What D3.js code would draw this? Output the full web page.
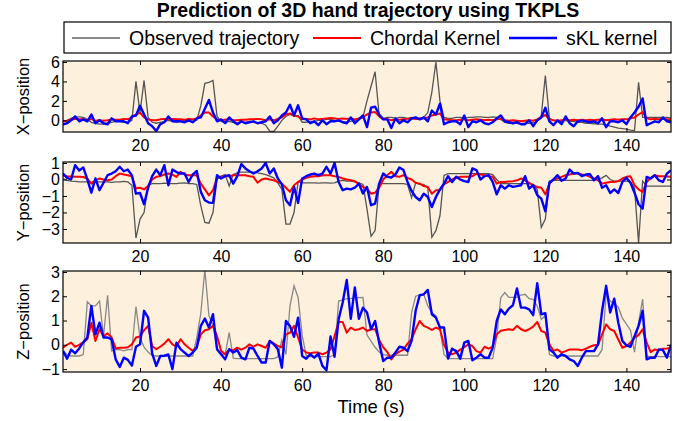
<!DOCTYPE html>
<html>
<head>
<meta charset="UTF-8">
<style>
  body { margin: 0; background: #fff; }
  svg { display: block; font-family: "Liberation Sans", Arial, sans-serif; }
  .tick text { font-size: 16px; fill: #000; }
</style>
</head>
<body>
<script src="https://cdnjs.cloudflare.com/ajax/libs/d3/7.8.5/d3.min.js"></script>
<script>
// time axis: samples 1..151
var time = d3.range(1, 152);
var xTicks = [20, 40, 60, 80, 100, 120, 140];

var seriesNames = ["Observed trajectory", "Chordal Kernel", "sKL kernel"];

// X-position
var xObs = [-0.1,0.0,0.2,0.35,0.35,0.3,0.1,-0.2,-0.3,-0.4,
  -0.4,-0.3,-0.2,-0.1,-0.1,-0.2,-0.2,0.0,4.0,0.8,
  4.1,0.3,-0.2,-0.3,-0.2,-0.1,0.0,-0.1,-0.2,-0.1,
  0.0,-0.1,-0.1,0.0,1.5,3.8,3.9,4.1,0.4,-0.1,
  -0.2,-0.1,-0.2,-0.3,-0.2,-0.2,-0.1,-0.2,-0.3,-0.3,
  -0.5,-1.1,-1.15,-0.6,0.0,0.4,0.6,0.4,0.5,-0.2,
  -0.2,-0.1,-0.1,0.0,0.0,0.1,0.1,0.0,-0.1,-0.1,
  -0.2,-0.1,0.0,0.1,0.3,2.0,3.5,5.0,0.5,0.2,
  0.3,0.3,0.2,0.3,0.3,0.2,0.3,0.1,0.2,0.3,
  0.8,2.9,6.0,2.0,0.3,0.2,0.2,0.3,0.3,0.2,
  0.3,0.3,0.35,0.35,0.3,0.3,0.35,0.3,0.1,-0.2,
  -0.3,-0.3,-0.3,-0.35,-0.3,-0.3,-0.25,-0.1,0.5,4.6,
  0.2,0.0,-0.1,-0.1,0.0,-0.1,-0.1,-0.2,-0.2,-0.3,
  -0.3,-0.35,-0.4,-0.4,-0.5,-0.6,-0.7,-0.8,-0.85,-0.9,
  -1.0,-1.05,3.9,0.3,0.3,0.3,0.3,0.3,0.3,0.3,0.25];
var xCho = [-0.1,-0.05,0.05,0.15,0.1,0.1,0.0,0.15,-0.05,0.0,
  -0.05,0.0,0.1,0.05,0.05,0.15,0.1,0.3,0.6,0.8,
  0.3,0.1,0.0,0.0,0.1,0.15,0.1,0.15,0.1,0.1,
  0.05,0.15,0.1,0.2,0.5,0.8,0.8,0.4,0.1,0.0,
  0.05,0.1,0.0,0.0,0.05,0.05,0.1,0.1,0.15,0.1,
  0.0,0.1,0.0,0.15,0.3,0.6,0.7,0.5,0.4,0.1,
  0.15,0.1,0.2,0.1,0.15,0.2,0.25,0.2,0.15,0.2,
  0.15,0.2,0.1,0.2,0.3,0.6,0.8,0.85,0.4,0.1,
  0.15,0.0,0.1,0.05,0.1,0.15,0.2,0.15,0.2,0.2,
  0.3,0.5,0.6,0.7,0.1,0.05,0.0,0.0,0.05,0.1,
  0.0,0.05,0.1,0.05,0.0,0.05,0.0,0.1,0.15,0.0,
  -0.05,0.0,-0.05,-0.1,-0.05,0.0,-0.05,0.1,0.3,0.55,
  0.1,0.0,-0.05,0.0,0.05,0.0,0.05,0.0,0.05,0.0,
  0.05,0.0,0.05,0.1,0.0,0.05,0.1,0.05,0.1,0.1,
  0.2,0.3,0.6,0.85,0.2,0.1,0.15,0.1,0.15,0.1,0.1];
var xSkl = [-0.4,-0.3,0.0,0.4,-0.1,0.1,-0.1,0.6,-0.3,0.0,
  -0.3,-0.4,0.2,-0.1,-0.1,-0.1,-0.3,0.4,0.5,1.5,
  0.6,-0.3,-0.6,-1.1,-0.4,-0.2,0.4,-0.1,-0.1,-0.1,
  -0.2,0.0,-0.2,0.2,0.3,1.2,2.1,0.8,-0.1,0.1,
  -0.3,0.3,-0.1,-0.4,-0.1,-0.3,-0.2,-0.1,-0.3,-0.2,
  -0.1,0.4,-0.3,0.0,0.5,0.8,1.6,0.5,1.55,0.2,
  0.1,-0.3,-0.1,-0.5,0.0,-0.4,-0.1,-0.1,0.0,-0.2,
  -0.3,0.3,-0.3,0.1,0.5,-0.7,1.3,1.4,0.6,0.1,
  0.1,-0.8,0.2,-0.3,0.0,-0.2,0.2,0.3,0.1,0.3,
  -0.1,1.0,0.6,1.7,-0.4,-0.2,-0.1,-0.1,-0.4,0.5,
  -0.7,-0.1,-0.2,0.0,-0.3,-0.4,-0.2,0.2,0.5,-0.1,
  -0.2,-0.3,-0.2,-0.4,-0.4,0.0,-0.6,0.0,0.3,1.3,
  -0.1,-0.5,0.0,-0.4,0.4,-0.3,-0.6,-0.1,0.0,-0.1,
  -0.2,-0.1,-0.3,0.2,-0.7,-0.1,-0.1,-0.2,0.0,-0.4,
  0.3,0.8,1.4,2.25,-0.5,-0.3,-0.1,-0.2,0.3,-0.1,-0.2];

// Y-position
var yObs = [0.06,-0.05,-0.1,-0.12,-0.15,-0.15,-0.15,-0.18,-0.15,-0.15,
  -0.15,-0.15,-0.18,-0.15,-0.15,-0.12,-0.15,-0.35,-3.55,-2.4,
  -2.0,-0.35,-0.25,-0.25,-0.25,-0.22,-0.25,-0.25,-0.25,-0.22,
  -0.2,-0.25,-0.25,-0.3,-1.6,-2.6,-2.65,-2.0,0.0,0.2,
  0.3,-0.4,0.3,0.4,0.45,0.45,0.45,0.45,0.4,0.35,
  0.3,0.2,0.1,-0.2,-0.6,-2.7,-2.7,-2.0,-0.15,-0.2,
  -0.2,-0.2,-0.2,-0.22,-0.2,-0.2,-0.22,-0.2,-0.1,-0.05,
  -0.1,-0.1,-0.15,-0.2,-0.3,-1.8,-3.45,-3.1,-0.25,-0.25,
  -0.25,-0.25,-0.25,-0.25,-0.25,-0.3,-1.1,-0.2,-0.3,-0.3,
  -0.5,-3.5,-3.1,-2.2,0.25,0.36,0.36,0.36,0.36,0.36,
  0.36,0.36,0.36,0.36,0.36,0.36,0.3,0.0,-0.25,-0.25,
  -0.25,-0.25,-0.25,-0.25,-0.25,-0.25,-0.3,-0.6,-2.9,-2.4,
  -0.1,-0.05,-0.05,-0.05,-0.05,-0.05,-0.05,-0.05,-0.05,-0.05,
  -0.05,-0.05,0.0,0.1,0.25,0.0,-0.1,-0.1,-0.1,-0.1,
  -0.15,-0.5,-3.85,-0.1,-0.4,-0.4,-0.4,-0.4,-0.4,-0.4,-0.4];
var yCho = [0.26,0.2,0.18,0.16,0.16,0.15,0.05,-0.25,-0.05,0.06,
  0.0,-0.05,0.0,0.2,0.36,0.3,0.26,0.2,-0.55,-0.5,
  -0.6,-0.4,0.0,0.16,0.2,0.3,0.36,0.3,0.16,0.47,
  0.3,0.26,0.26,0.26,-0.25,-0.6,-0.96,-0.65,0.1,0.16,
  0.2,0.2,0.26,0.26,0.26,0.26,0.2,0.16,-0.2,0.0,
  0.06,0.0,-0.05,-0.15,-0.25,-0.5,-0.75,-0.35,-0.15,0.0,
  0.1,0.16,0.2,0.2,0.26,0.26,0.26,0.2,0.16,0.06,
  0.0,-0.05,-0.1,-0.3,-0.45,-0.55,-0.86,-0.8,-0.5,0.0,
  0.26,0.47,0.2,0.16,0.26,0.1,0.0,-0.2,-0.25,-0.4,
  -0.45,-0.86,-0.65,-0.65,-0.3,-0.15,0.0,0.1,0.16,0.16,
  0.16,0.2,0.36,0.3,0.26,0.2,0.16,-0.25,-0.15,-0.15,
  -0.12,-0.1,-0.05,0.06,-0.05,-0.2,-0.35,-0.45,-0.5,-0.9,
  -0.25,0.0,0.06,0.16,0.26,0.3,0.36,0.36,0.3,0.26,
  0.16,0.06,-0.05,-0.25,-0.2,-0.15,-0.15,-0.1,0.06,0.16,
  0.2,-0.35,-0.6,-0.75,-0.15,0.1,0.26,0.2,0.2,0.18,0.16];
var ySkl = [0.36,0.1,0.0,0.87,0.55,0.73,0.0,-0.8,0.06,-0.65,
  -0.2,0.26,0.36,0.5,0.77,0.5,0.6,0.25,-0.86,-0.82,
  -1.5,-0.5,0.2,0.6,0.26,0.87,-0.35,0.6,0.45,0.36,
  0.36,-0.15,0.3,0.52,-0.75,-1.26,-1.4,-1.42,0.26,0.06,
  0.2,0.26,-0.25,0.2,0.93,0.67,0.5,0.36,0.5,0.67,
  1.0,0.36,0.67,0.06,-0.3,-1.26,-1.56,-0.45,-1.42,0.06,
  0.2,0.3,0.36,0.26,0.36,0.77,0.36,1.0,-0.15,-0.65,
  -0.55,-0.6,-0.5,-0.25,-0.85,-0.45,-1.56,-1.47,-0.25,0.36,
  0.16,0.12,0.3,0.73,0.57,-0.15,-0.7,-1.06,-1.26,-0.86,
  -1.06,-1.67,-1.06,-0.6,-0.25,0.2,-0.15,0.16,0.0,-0.1,
  -0.15,0.67,0.57,0.0,0.2,0.26,-0.15,-0.9,-0.35,-0.55,
  -0.35,-0.45,-0.4,-0.35,0.2,-0.55,-0.35,-0.95,-1.16,-1.93,
  -0.2,0.0,0.26,-0.08,0.06,0.6,0.36,0.4,0.2,0.3,
  0.32,-0.05,0.2,-0.5,-0.35,-0.82,-0.6,-0.82,-0.15,0.1,
  -0.2,-0.8,-1.5,-1.77,0.16,0.06,0.26,-0.05,-0.15,0.36,0.57];

// Z-position
var zObs = [-0.25,-0.4,-0.46,-0.46,-0.46,-0.4,1.77,1.6,1.6,1.8,
  0.36,2.04,-0.25,-0.2,-0.2,-0.25,-0.2,-0.2,1.57,0.3,
  -0.1,-0.3,-0.45,-0.46,-0.46,-0.46,-0.46,-0.46,-0.46,-0.46,
  -0.46,-0.46,-0.46,0.3,1.3,3.1,1.2,0.8,-0.2,-0.4,
  -0.4,0.5,-0.55,-0.57,-0.57,-0.57,-0.57,-0.57,-0.57,-0.57,
  -0.57,-0.57,-0.57,-0.5,0.2,-0.4,1.6,2.43,1.95,0.4,
  -0.45,-0.49,-0.49,-0.49,-0.49,-0.49,-0.49,-0.4,1.8,1.85,
  1.9,1.9,1.94,1.94,1.95,0.4,0.15,-0.1,-0.3,-0.4,
  -0.43,-0.43,-0.43,-0.43,-0.43,-0.43,1.33,2.0,2.05,2.08,
  1.6,1.33,1.2,0.64,-0.4,-0.57,-0.57,-0.57,-0.57,-0.57,
  -0.57,-0.57,-0.57,-0.57,-0.57,-0.57,-0.57,0.3,1.95,2.15,
  1.95,1.95,1.95,2.05,2.08,1.9,1.87,1.6,1.05,1.2,
  -0.4,-0.46,-0.46,-0.46,-0.46,-0.46,-0.46,-0.46,-0.46,-0.46,
  -0.46,-0.46,-0.46,-0.2,2.08,1.8,1.7,1.55,1.1,0.85,
  0.6,-0.3,0.91,1.88,-0.46,-0.49,-0.49,-0.49,-0.49,-0.49,-0.49];
var zCho = [-0.12,0.0,0.09,-0.08,0.0,0.1,0.23,0.91,0.16,0.64,
  0.36,0.47,0.3,-0.15,-0.12,-0.12,-0.1,0.02,0.3,0.34,
  0.6,0.78,-0.05,-0.18,-0.08,0.05,0.23,0.02,-0.08,0.23,
  0.02,-0.12,-0.25,-0.08,0.43,0.6,0.64,0.78,0.36,-0.25,
  -0.39,-0.2,-0.22,-0.12,-0.2,-0.12,0.02,-0.08,0.02,-0.05,
  -0.12,0.16,0.06,-0.05,-0.1,0.43,0.5,0.78,0.3,-0.19,
  -0.32,-0.35,-0.32,-0.32,-0.39,-0.32,-0.19,0.36,0.94,0.94,
  0.5,0.71,0.61,0.64,0.71,0.57,0.64,0.64,0.2,-0.1,
  -0.3,-0.6,-0.39,-0.28,-0.2,0.05,0.23,0.64,0.98,0.78,
  0.71,0.61,0.71,0.64,0.0,-0.32,-0.39,-0.32,-0.2,-0.1,
  0.02,-0.05,-0.26,-0.32,-0.08,-0.16,-0.08,0.43,0.58,0.61,
  0.64,0.61,0.78,0.64,0.57,0.64,0.75,0.94,0.57,0.5,
  0.02,-0.25,-0.19,-0.32,-0.26,-0.19,-0.19,-0.19,-0.22,-0.16,
  -0.08,-0.02,0.0,0.43,0.84,0.64,0.57,0.22,-0.12,-0.05,
  0.09,0.3,0.4,0.64,0.09,-0.3,-0.19,-0.22,-0.16,-0.15,-0.12];
var zSkl = [-0.25,-0.57,-0.2,-0.35,-0.15,0.1,0.3,1.6,0.43,0.91,
  0.3,0.3,0.23,-0.6,-0.91,-0.53,-0.62,-0.85,-0.08,0.02,
  1.4,1.12,-0.35,-0.87,-0.46,-0.45,-0.4,-1.0,0.09,-0.18,
  -0.32,-0.46,-0.32,-0.12,0.78,1.08,0.71,1.26,-0.18,-0.39,
  -0.6,-0.18,-0.32,-0.22,-0.53,-0.6,-0.12,-0.16,-0.46,-0.73,
  -0.73,0.16,0.02,-0.18,-0.94,0.98,0.77,0.33,1.12,-0.46,
  -0.57,-0.39,-0.53,-0.36,-0.87,-1.05,0.34,-0.49,1.05,1.74,
  2.67,1.07,2.36,1.07,1.53,1.33,0.64,0.98,0.09,-0.67,
  -0.53,-0.53,-0.32,-0.08,-0.12,-0.26,0.16,1.4,2.04,2.08,
  2.26,1.26,1.12,0.71,0.71,-0.57,-0.16,-0.26,-0.57,0.09,
  0.16,-0.64,-0.53,-0.39,-0.53,-0.53,-0.12,0.98,1.46,1.26,
  1.49,1.63,2.32,1.53,1.53,1.46,1.22,2.54,1.26,1.3,
  -0.19,-0.32,-0.53,-0.39,-0.46,-0.6,-0.67,-0.87,-0.53,-0.26,
  -0.26,-0.26,0.02,1.4,2.43,1.33,1.9,0.91,0.16,-0.02,
  -0.08,0.36,0.78,1.4,-0.6,-0.53,-0.53,-0.19,-0.22,-0.53,0.0];

var panels = [
  { label: "X\u2212position", obs: xObs, cho: xCho, skl: xSkl, ylim: [-1.2, 6.1], ticks: [0, 2, 4, 6], top: 61, bottom: 132, gray: "#555" },
  { label: "Y\u2212position", obs: yObs, cho: yCho, skl: ySkl, ylim: [-3.85, 1.06], ticks: [-3, -2, -1, 0, 1], top: 162, bottom: 243, gray: "#555" },
  { label: "Z\u2212position", obs: zObs, cho: zCho, skl: zSkl, ylim: [-1.12, 3.04], ticks: [-1, 0, 1, 2, 3], top: 271, bottom: 372, gray: "#888" }
];

var W = 686, H = 421;
var left = 63, right = 671;
var fmt = function(d) { return d < 0 ? "\u2212" + Math.abs(d) : "" + d; };

var svg = d3.select("body").append("svg").attr("width", W).attr("height", H);

var x = d3.scaleLinear().domain([1, 151]).range([left, right]);

panels.forEach(function(p, i) {
  var y = d3.scaleLinear().domain(p.ylim).range([p.bottom, p.top]);
  var g = svg.append("g");

  g.append("rect")
    .attr("x", left).attr("y", p.top)
    .attr("width", right - left).attr("height", p.bottom - p.top)
    .attr("fill", "#fdf0dc");

  g.append("clipPath").attr("id", "clip" + i)
    .append("rect")
    .attr("x", left).attr("y", p.top)
    .attr("width", right - left).attr("height", p.bottom - p.top);

  var line = d3.line().x(function(d, j) { return x(time[j]); }).y(function(d) { return y(d); });
  var lines = g.append("g").attr("clip-path", "url(#clip" + i + ")");
  lines.append("path").attr("d", line(p.obs)).attr("fill", "none").attr("stroke", p.gray).attr("stroke-width", 1.3);
  lines.append("path").attr("d", line(p.cho)).attr("fill", "none").attr("stroke", "#ff0000").attr("stroke-width", 2).attr("stroke-linejoin", "round");
  lines.append("path").attr("d", line(p.skl)).attr("fill", "none").attr("stroke", "#0000ff").attr("stroke-width", 2.4).attr("stroke-linejoin", "round");

  // axes, MATLAB style: ticks inward on all four sides
  g.append("g").attr("transform", "translate(0," + p.bottom + ")")
    .call(d3.axisBottom(x).tickValues(xTicks).tickSize(-4).tickPadding(8))
    .call(function(a) { a.select(".domain").remove(); });
  g.append("g").attr("transform", "translate(0," + p.top + ")")
    .call(d3.axisTop(x).tickValues(xTicks).tickSize(-4).tickFormat(""))
    .call(function(a) { a.select(".domain").remove(); });
  g.append("g").attr("transform", "translate(" + left + ",0)")
    .call(d3.axisLeft(y).tickValues(p.ticks).tickSize(-4).tickPadding(3).tickFormat(fmt))
    .call(function(a) { a.select(".domain").remove(); });
  g.append("g").attr("transform", "translate(" + right + ",0)")
    .call(d3.axisRight(y).tickValues(p.ticks).tickSize(-4).tickFormat(""))
    .call(function(a) { a.select(".domain").remove(); });

  g.append("rect")
    .attr("x", left).attr("y", p.top)
    .attr("width", right - left).attr("height", p.bottom - p.top)
    .attr("fill", "none").attr("stroke", "#000").attr("stroke-width", 1.2);

  g.append("text")
    .attr("transform", "translate(29," + ((p.top + p.bottom) / 2) + ") rotate(-90)")
    .attr("text-anchor", "middle")
    .attr("font-size", 16.5)
    .text(p.label);
});

svg.append("text")
  .attr("x", (left + right) / 2 + 4).attr("y", 413)
  .attr("text-anchor", "middle").attr("font-size", 18.5)
  .text("Time (s)");

svg.append("text")
  .attr("x", (left + right) / 2 + 1).attr("y", 17)
  .attr("text-anchor", "middle").attr("font-size", 19.5).attr("font-weight", "bold")
  .text("Prediction of 3D hand trajectory using TKPLS");

// legend
var legend = svg.append("g");
legend.append("rect").attr("x", 64).attr("y", 22).attr("width", 607).attr("height", 31)
  .attr("fill", "#fff").attr("stroke", "#000").attr("stroke-width", 1.2);
var legColors = ["#666", "#ff0000", "#0000ff"];
var legWidths = [1.3, 2, 2.4];
var legX = [72, 313, 509];
seriesNames.forEach(function(name, k) {
  legend.append("line").attr("x1", legX[k]).attr("x2", legX[k] + 48)
    .attr("y1", 38).attr("y2", 38)
    .attr("stroke", legColors[k]).attr("stroke-width", legWidths[k]);
  legend.append("text").attr("x", legX[k] + 57).attr("y", 45)
    .attr("font-size", 19.5).text(name);
});
</script>
</body>
</html>
